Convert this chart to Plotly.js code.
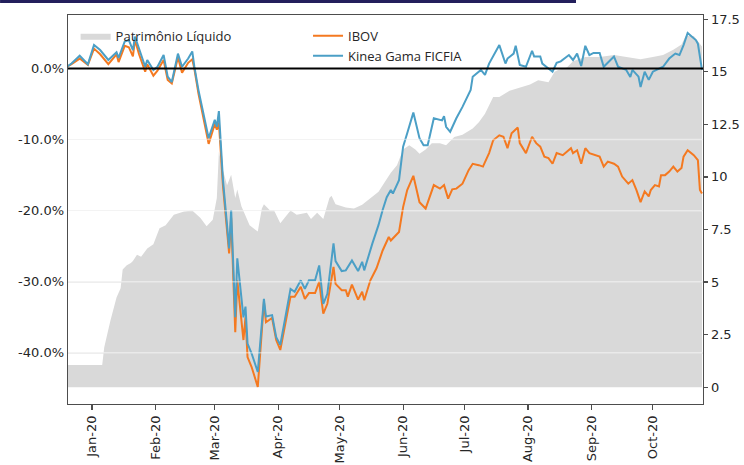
<!DOCTYPE html>
<html>
<head>
<meta charset="utf-8">
<script src="https://cdn.plot.ly/plotly-3.0.1.min.js"></script>
<style>html,body{margin:0;padding:0;background:#fff;}#chart{width:744px;height:465px;}</style>
</head>
<body>
<div id="chart"></div>
<script>
// Patrimônio Líquido (right axis)
const plDates = ["2019-12-20","2020-01-06","2020-01-07","2020-01-10","2020-01-13","2020-01-15","2020-01-16","2020-01-18","2020-01-20","2020-01-21","2020-01-23","2020-01-25","2020-01-28","2020-01-31","2020-02-03","2020-02-06","2020-02-10","2020-02-15","2020-02-19","2020-02-23","2020-02-26","2020-02-29","2020-03-02","2020-03-03","2020-03-05","2020-03-07","2020-03-09","2020-03-11","2020-03-12","2020-03-14","2020-03-18","2020-03-22","2020-03-24","2020-03-25","2020-03-28","2020-03-30","2020-04-02","2020-04-07","2020-04-10","2020-04-15","2020-04-17","2020-04-20","2020-04-23","2020-04-26","2020-04-27","2020-04-29","2020-05-04","2020-05-08","2020-05-12","2020-05-16","2020-05-20","2020-05-24","2020-05-26","2020-05-29","2020-06-01","2020-06-04","2020-06-07","2020-06-09","2020-06-12","2020-06-15","2020-06-19","2020-06-22","2020-06-26","2020-06-30","2020-07-05","2020-07-08","2020-07-11","2020-07-15","2020-07-18","2020-07-23","2020-07-26","2020-07-30","2020-08-02","2020-08-06","2020-08-11","2020-08-14","2020-08-16","2020-08-20","2020-08-23","2020-08-29","2020-09-05","2020-09-12","2020-09-18","2020-09-25","2020-10-01","2020-10-06","2020-10-11","2020-10-15","2020-10-17","2020-10-21","2020-10-25"];
const plValues = [1.05,1.05,1.9,3.16,4.26,4.7,5.6,5.8,5.9,6.0,6.3,6.2,6.6,6.8,7.56,7.7,8.2,8.35,8.4,8.05,7.65,7.96,9.0,11.2,10.3,9.6,10.1,9.0,9.4,8.6,7.7,7.4,8.5,8.7,8.4,8.4,7.8,8.4,8.2,8.3,8.0,8.3,8.0,9.0,9.1,8.7,8.55,8.5,8.67,9.0,9.3,9.9,10.2,10.55,11.3,11.5,11.3,11.1,11.3,11.6,11.6,11.5,11.9,12.0,12.3,12.6,13.0,13.8,13.8,14.1,14.2,14.3,14.4,14.6,14.5,15.0,15.1,15.2,15.5,15.7,15.7,15.8,15.7,15.6,15.7,15.8,16.05,16.3,16.7,16.7,16.2];

// IBOV (left axis, %)
const ibovDates = ["2019-12-20","2019-12-22","2019-12-26","2019-12-30","2020-01-02","2020-01-05","2020-01-09","2020-01-13","2020-01-14","2020-01-17","2020-01-19","2020-01-21","2020-01-22","2020-01-24","2020-01-27","2020-01-28","2020-01-31","2020-02-02","2020-02-05","2020-02-07","2020-02-09","2020-02-12","2020-02-14","2020-02-17","2020-02-19","2020-02-20","2020-02-22","2020-02-27","2020-03-01","2020-03-02","2020-03-03","2020-03-05","2020-03-08","2020-03-09","2020-03-11","2020-03-12","2020-03-15","2020-03-16","2020-03-17","2020-03-19","2020-03-22","2020-03-25","2020-03-26","2020-03-29","2020-03-31","2020-04-02","2020-04-07","2020-04-09","2020-04-12","2020-04-14","2020-04-16","2020-04-19","2020-04-21","2020-04-23","2020-04-25","2020-04-28","2020-04-29","2020-05-02","2020-05-04","2020-05-05","2020-05-07","2020-05-10","2020-05-12","2020-05-13","2020-05-16","2020-05-19","2020-05-22","2020-05-25","2020-05-26","2020-05-30","2020-06-01","2020-06-03","2020-06-06","2020-06-09","2020-06-12","2020-06-16","2020-06-19","2020-06-21","2020-06-23","2020-06-25","2020-06-27","2020-06-30","2020-07-03","2020-07-05","2020-07-08","2020-07-10","2020-07-13","2020-07-15","2020-07-18","2020-07-20","2020-07-22","2020-07-24","2020-07-27","2020-07-28","2020-07-31","2020-08-03","2020-08-05","2020-08-07","2020-08-09","2020-08-11","2020-08-13","2020-08-15","2020-08-18","2020-08-22","2020-08-23","2020-08-25","2020-08-27","2020-08-29","2020-08-31","2020-09-03","2020-09-05","2020-09-07","2020-09-09","2020-09-12","2020-09-14","2020-09-16","2020-09-19","2020-09-21","2020-09-23","2020-09-25","2020-09-27","2020-09-29","2020-09-30","2020-10-02","2020-10-04","2020-10-05","2020-10-07","2020-10-09","2020-10-11","2020-10-13","2020-10-15","2020-10-16","2020-10-18","2020-10-21","2020-10-23","2020-10-24","2020-10-25"];
const ibovValues = [0.3,0.6,1.4,0.5,2.8,2.0,0.6,2.0,0.9,3.2,3.0,1.7,4.0,2.0,-0.45,0.6,-1.0,-0.3,1.2,-1.6,-2.1,1.6,-0.6,0.8,1.3,0.0,-3.5,-10.6,-7.8,-8.6,-7.6,-16.5,-26.0,-21.0,-37.1,-29.8,-38.2,-35.0,-40.6,-42.0,-44.8,-32.8,-35.7,-35.1,-38.2,-39.6,-32.1,-32.1,-30.7,-32.4,-31.6,-31.6,-30.0,-34.5,-33.1,-27.9,-30.3,-31.2,-31.2,-32.1,-30.4,-32.5,-31.4,-32.6,-29.8,-28.1,-25.6,-23.7,-24.2,-23.0,-19.5,-17.1,-15.1,-18.8,-19.7,-16.4,-16.9,-16.4,-18.3,-17.0,-16.9,-16.2,-14.3,-13.4,-13.6,-13.8,-11.9,-10.1,-9.4,-9.6,-11.2,-9.1,-8.3,-10.5,-11.9,-9.6,-10.5,-11.0,-12.4,-12.6,-13.4,-11.9,-12.2,-11.2,-11.9,-11.5,-13.4,-11.2,-11.9,-12.2,-12.4,-13.8,-13.1,-13.4,-13.8,-15.2,-16.2,-15.7,-17.1,-18.8,-17.3,-18.0,-17.1,-16.4,-16.6,-15.0,-15.0,-14.5,-13.8,-14.5,-14.0,-12.4,-11.5,-12.2,-12.9,-17.1,-17.6];

// Kinea Gama FICFIA (left axis, %)
const kineaDates = ["2019-12-20","2019-12-22","2019-12-26","2019-12-30","2020-01-02","2020-01-05","2020-01-09","2020-01-13","2020-01-14","2020-01-17","2020-01-19","2020-01-21","2020-01-22","2020-01-24","2020-01-27","2020-01-28","2020-01-31","2020-02-02","2020-02-05","2020-02-07","2020-02-09","2020-02-12","2020-02-14","2020-02-17","2020-02-19","2020-02-20","2020-02-22","2020-02-27","2020-03-01","2020-03-02","2020-03-03","2020-03-05","2020-03-08","2020-03-09","2020-03-11","2020-03-12","2020-03-15","2020-03-16","2020-03-17","2020-03-19","2020-03-22","2020-03-25","2020-03-26","2020-03-29","2020-03-31","2020-04-02","2020-04-07","2020-04-09","2020-04-12","2020-04-14","2020-04-16","2020-04-19","2020-04-21","2020-04-23","2020-04-25","2020-04-28","2020-04-29","2020-05-02","2020-05-04","2020-05-07","2020-05-10","2020-05-12","2020-05-13","2020-05-17","2020-05-20","2020-05-22","2020-05-24","2020-05-26","2020-05-27","2020-05-30","2020-06-01","2020-06-03","2020-06-06","2020-06-09","2020-06-11","2020-06-13","2020-06-16","2020-06-20","2020-06-21","2020-06-22","2020-06-24","2020-06-27","2020-06-30","2020-07-04","2020-07-05","2020-07-09","2020-07-11","2020-07-13","2020-07-18","2020-07-21","2020-07-22","2020-07-25","2020-07-26","2020-07-28","2020-07-31","2020-08-03","2020-08-04","2020-08-07","2020-08-08","2020-08-11","2020-08-13","2020-08-15","2020-08-17","2020-08-21","2020-08-23","2020-08-25","2020-08-27","2020-08-29","2020-08-31","2020-09-02","2020-09-05","2020-09-07","2020-09-10","2020-09-12","2020-09-14","2020-09-18","2020-09-20","2020-09-21","2020-09-24","2020-09-25","2020-09-27","2020-09-29","2020-10-01","2020-10-06","2020-10-09","2020-10-12","2020-10-14","2020-10-16","2020-10-18","2020-10-22","2020-10-23","2020-10-25"];
const kineaValues = [0.3,0.7,1.8,0.6,3.3,2.6,1.2,2.3,1.5,3.8,4.0,2.6,4.5,2.8,0.25,1.2,-0.2,0.25,1.9,-1.15,-1.9,2.1,0.25,1.4,2.4,0.3,-3.0,-9.8,-7.2,-8.2,-6.0,-15.7,-25.3,-19.9,-35.0,-26.7,-35.0,-33.5,-38.7,-40.1,-42.7,-32.4,-34.9,-34.7,-37.8,-38.9,-31.0,-31.4,-29.8,-31.0,-29.8,-29.8,-27.7,-33.1,-31.7,-24.6,-27.1,-28.5,-28.4,-27.0,-28.5,-27.2,-28.4,-24.6,-22.0,-19.9,-18.1,-17.1,-17.6,-15.7,-11.0,-9.1,-6.2,-9.8,-10.8,-10.8,-7.0,-7.3,-6.7,-8.2,-8.9,-7.0,-5.4,-3.0,-1.15,-0.2,-0.9,0.7,3.3,0.7,1.4,2.1,3.2,0.5,0.25,2.5,1.7,1.7,0.7,0.0,-0.45,0.8,1.0,1.9,1.2,2.1,0.35,3.2,1.9,2.2,2.2,0.25,1.2,1.7,0.25,-0.2,-1.2,-0.2,-1.15,-2.6,-0.45,-1.6,-0.45,0.25,1.4,2.1,1.9,3.3,5.0,4.0,3.5,-0.2];

// Axis ticks
const monthTicks = ["2020-01-01","2020-02-01","2020-03-01","2020-04-01","2020-05-01","2020-06-01","2020-07-01","2020-08-01","2020-09-01","2020-10-01"];
const monthLabels = ["Jan-20","Feb-20","Mar-20","Apr-20","May-20","Jun-20","Jul-20","Aug-20","Sep-20","Oct-20"];
const pctTicks = [-40,-30,-20,-10,0];
const pctLabels = ["-40.0%","-30.0%","-20.0%","-10.0%","0.0%"];
const plTicks = [0,2.5,5,7.5,10,12.5,15,17.5];
const plLabels = ["0","2.5","5","7.5","10","12.5","15","17.5"];

const tickFont = {family: "DejaVu Sans", size: 13, color: "#262626"};

const traces = [
  {x: plDates, y: plValues, type: "scatter", mode: "lines", name: "Patrimônio Líquido",
   fill: "tozeroy", fillcolor: "#d9d9d9", line: {width: 0, color: "#d9d9d9"},
   yaxis: "y", legend: "legend"},
  {x: ibovDates, y: ibovValues, type: "scatter", mode: "lines", name: "IBOV",
   line: {width: 2, color: "#f47920"}, yaxis: "y2", legend: "legend2"},
  {x: kineaDates, y: kineaValues, type: "scatter", mode: "lines", name: "Kinea Gama FICFIA",
   line: {width: 2, color: "#4b9fc6"}, yaxis: "y2", legend: "legend2"}
];

const gridShapes = pctTicks.filter(v => v !== 0).map(v => ({
  type: "line", xref: "paper", x0: 0, x1: 1, yref: "y2", y0: v, y1: v,
  line: {color: "rgba(255,255,255,0.45)", width: 1.5}, layer: "above"
}));

const layout = {
  width: 744, height: 465,
  margin: {l: 68, r: 41, t: 15, b: 61, pad: 0},
  paper_bgcolor: "#ffffff", plot_bgcolor: "#ffffff",
  showlegend: true,
  xaxis: {
    type: "date", range: ["2019-12-20 07:00", "2020-10-25 12:00"],
    tickmode: "array", tickvals: monthTicks, ticktext: monthLabels,
    tickangle: -90, tickfont: tickFont,
    ticks: "outside", ticklen: 5, tickwidth: 1.2, tickcolor: "#4d4d4d",
    showgrid: false, zeroline: false,
    showline: true, mirror: true, linecolor: "#4d4d4d", linewidth: 1.3
  },
  yaxis: {
    side: "right", range: [-0.8, 17.7],
    tickmode: "array", tickvals: plTicks, ticktext: plLabels, tickfont: tickFont,
    ticks: "outside", ticklen: 4, tickwidth: 1.2, tickcolor: "#4d4d4d",
    showgrid: false, zeroline: false,
    showline: true, linecolor: "#4d4d4d", linewidth: 1.3
  },
  yaxis2: {
    overlaying: "y", side: "left", range: [-47.2, 7.53],
    tickmode: "array", tickvals: pctTicks, ticktext: pctLabels, tickfont: tickFont,
    ticks: "", showgrid: true, gridcolor: "#e9e9e9", gridwidth: 1.5,
    zeroline: false, showline: true, linecolor: "#4d4d4d", linewidth: 1.3
  },
  legend: {
    x: 0.012, y: 0.985, xanchor: "left", yanchor: "top",
    bgcolor: "rgba(0,0,0,0)", font: {family: "Open Sans", size: 13, color: "#262626"}
  },
  legend2: {
    x: 0.378, y: 0.985, xanchor: "left", yanchor: "top",
    bgcolor: "rgba(0,0,0,0)", tracegroupgap: 0,
    font: {family: "Open Sans", size: 13, color: "#262626"}
  },
  shapes: gridShapes.concat([
    {type: "line", xref: "paper", x0: 0, x1: 1, yref: "y2", y0: 0, y1: 0,
     line: {color: "#000000", width: 2}, layer: "above"},
    {type: "line", xref: "paper", x0: -0.107, x1: 0.80, yref: "paper", y0: 1.035, y1: 1.035,
     line: {color: "#231f5c", width: 3}, layer: "above"}
  ])
};

Plotly.newPlot("chart", traces, layout, {staticPlot: true, displayModeBar: false});
</script>
</body>
</html>
